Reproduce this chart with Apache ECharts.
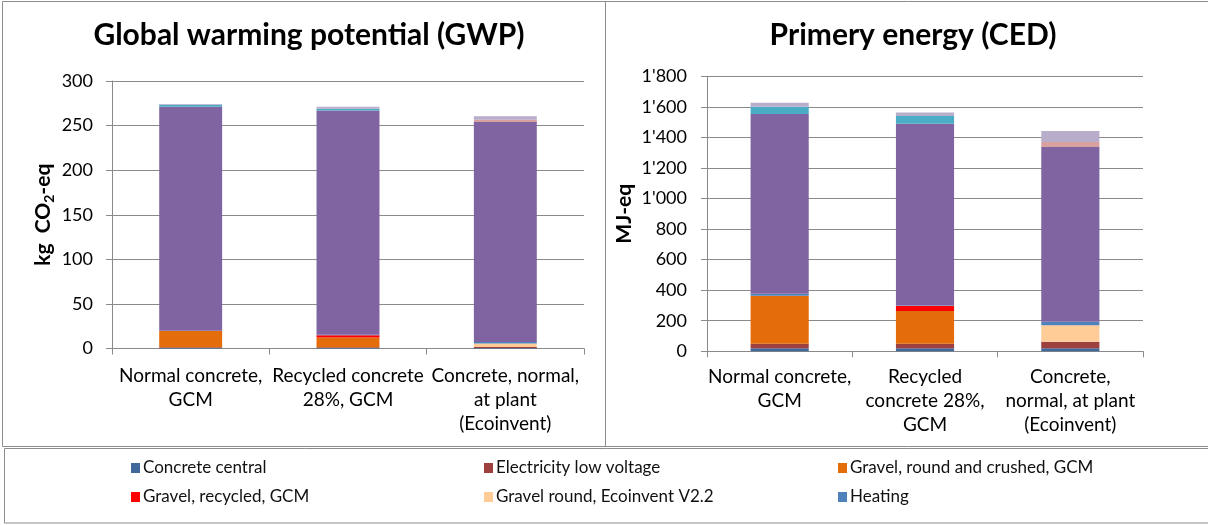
<!DOCTYPE html>
<html>
<head>
<meta charset="utf-8">
<script src="https://cdn.jsdelivr.net/npm/echarts@6/dist/echarts.min.js"></script>
<style>
  html, body { margin: 0; padding: 0; background: #ffffff; }
  #chart { width: 1208px; height: 525px; }
</style>
</head>
<body>
<div id="chart"></div>
<script>
// Category labels for each panel (line breaks as printed under the bars)
const categoriesGWP = ['Normal concrete,\nGCM', 'Recycled concrete\n28%, GCM', 'Concrete, normal,\nat plant\n(Ecoinvent)'];
const categoriesCED = ['Normal concrete,\nGCM', 'Recycled\nconcrete 28%,\nGCM', 'Concrete,\nnormal, at plant\n(Ecoinvent)'];

// Contributions, stacked bottom to top: kg CO2-eq (GWP) and MJ-eq (CED)
const gwpConcreteCentral   = [0.5, 0.5, 0.5];
const gwpElectricity       = [0.8, 0.8, 1.2];
const gwpGravelCrushed     = [18.2, 11.0, 0];
const gwpGravelRecycled    = [0, 2.5, 0];
const gwpGravelEcoinvent   = [0, 0, 4.0];
const gwpHeating           = [0.5, 0.5, 1.5];
const gwpCement            = [251.0, 251.7, 246.8];
const gwpTransport         = [2.5, 2.0, 0];
const gwpAdditives         = [0, 0, 2.5];
const gwpOther             = [0.8, 2.0, 4.0];

const cedConcreteCentral   = [20, 20, 20];
const cedElectricity       = [30, 30, 43];
const cedGravelCrushed     = [314, 214, 0];
const cedGravelRecycled    = [0, 33, 0];
const cedGravelEcoinvent   = [0, 0, 107];
const cedHeating           = [13, 3, 24];
const cedCement            = [1175, 1189, 1142];
const cedTransport         = [48, 50, 0];
const cedAdditives         = [0, 0, 33];
const cedOther             = [26, 24, 72];

const seriesNames = ['Concrete central', 'Electricity low voltage', 'Gravel, round and crushed, GCM',
  'Gravel, recycled, GCM', 'Gravel round, Ecoinvent V2.2', 'Heating', 'Cement', 'Transport', 'Additives', 'Other'];
const seriesColors = ['#41689b', '#9e413e', '#e46c0a', '#ff0000', '#ffcb96', '#4f81bd', '#8064a2', '#4bacc6', '#d9a0a0', '#b8adca'];
const gwpSets = [gwpConcreteCentral, gwpElectricity, gwpGravelCrushed, gwpGravelRecycled, gwpGravelEcoinvent,
  gwpHeating, gwpCement, gwpTransport, gwpAdditives, gwpOther];
const cedSets = [cedConcreteCentral, cedElectricity, cedGravelCrushed, cedGravelRecycled, cedGravelEcoinvent,
  cedHeating, cedCement, cedTransport, cedAdditives, cedOther];

// Legend rows: [name, left, top]
const legendItems = [
  ['Concrete central', 131, 457], ['Electricity low voltage', 484, 457], ['Gravel, round and crushed, GCM', 838, 457],
  ['Gravel, recycled, GCM', 131, 486], ['Gravel round, Ecoinvent V2.2', 484, 486], ['Heating', 838, 486]
];

const FONT = 'Lato, "Liberation Sans", sans-serif';
const GRID_GRAY = '#8a8a8a';

const thousands = v => String(v).replace(/\B(?=(\d{3})+(?!\d))/g, "'");

function yAxis(gridIndex, max, interval, name, gap, margin, rich) {
  return {
    type: 'value', gridIndex, min: 0, max, interval,
    name, nameLocation: 'middle', nameGap: gap, nameRotate: 90,
    nameTextStyle: { fontFamily: FONT, fontSize: 21, fontWeight: 'bold', color: '#000', rich },
    axisLine: { show: true, lineStyle: { color: GRID_GRAY, width: 1 } },
    axisTick: { show: true, length: 6, lineStyle: { color: GRID_GRAY } },
    splitLine: { show: true, lineStyle: { color: GRID_GRAY, width: 1 } },
    axisLabel: { fontFamily: FONT, fontSize: 18, color: '#000', margin, formatter: thousands }
  };
}

function xAxis(gridIndex, data, margin) {
  return {
    type: 'category', gridIndex, data,
    axisLine: { show: true, lineStyle: { color: GRID_GRAY, width: 1 } },
    axisTick: { show: true, length: 6, lineStyle: { color: GRID_GRAY } },
    axisLabel: { fontFamily: FONT, fontSize: 19, color: '#000', margin, lineHeight: 24, interval: 0 }
  };
}

const series = [];
seriesNames.forEach((name, i) => {
  series.push({ type: 'bar', name, stack: 'gwp', xAxisIndex: 0, yAxisIndex: 0, barWidth: '40%',
    data: gwpSets[i], itemStyle: { color: seriesColors[i] } });
  series.push({ type: 'bar', name, stack: 'ced', xAxisIndex: 1, yAxisIndex: 1, barWidth: '40%',
    data: cedSets[i], itemStyle: { color: seriesColors[i] } });
});

const legends = legendItems.map(([name, left, top]) => ({
  data: [name], left, top, padding: 0, itemWidth: 9, itemHeight: 10, itemGap: 0,
  icon: 'rect', selectedMode: false,
  textStyle: { fontFamily: FONT, fontSize: 17, color: '#111', lineHeight: 22, padding: [0, 0, 0, -2] }
}));

const chart = echarts.init(document.getElementById('chart'), null, { renderer: 'canvas' });
chart.setOption({
  animation: false,
  backgroundColor: '#ffffff',
  title: [
    { text: 'Global warming potential (GWP)', left: 304, top: 15, textAlign: 'center',
      textStyle: { fontFamily: FONT, fontSize: 30, fontWeight: 'bold', color: '#000' } },
    { text: 'Primery energy (CED)', left: 908, top: 15, textAlign: 'center',
      textStyle: { fontFamily: FONT, fontSize: 30, fontWeight: 'bold', color: '#000' } }
  ],
  grid: [
    { left: 112, top: 81, width: 472, height: 267.5 },
    { left: 707, top: 76.2, width: 436, height: 275.1 }
  ],
  xAxis: [xAxis(0, categoriesGWP, 15), xAxis(1, categoriesCED, 14)],
  yAxis: [
    yAxis(0, 300, 50, '{t|kg  CO}{s|2}{t|-eq}', 56, 19, {
      t: { fontFamily: FONT, fontSize: 21, fontWeight: 'bold', color: '#000' },
      s: { fontFamily: FONT, fontSize: 14, fontWeight: 'bold', color: '#000', padding: [11, 0, 0, 0] }
    }),
    yAxis(1, 1800, 200, 'MJ-eq', 72, 20)
  ],
  legend: legends,
  series,
  graphic: [
    { type: 'rect', shape: { x: 2.5, y: 1.5, width: 603, height: 445 }, silent: true,
      style: { fill: 'none', stroke: '#8c8c8c', lineWidth: 1 } },
    { type: 'rect', shape: { x: 605.5, y: 1.5, width: 610, height: 445 }, silent: true,
      style: { fill: 'none', stroke: '#8c8c8c', lineWidth: 1 } },
    { type: 'rect', shape: { x: 4.5, y: 448.5, width: 1210, height: 74.5 }, silent: true,
      style: { fill: 'none', stroke: '#8c8c8c', lineWidth: 1 } }
  ]
});
</script>
</body>
</html>
